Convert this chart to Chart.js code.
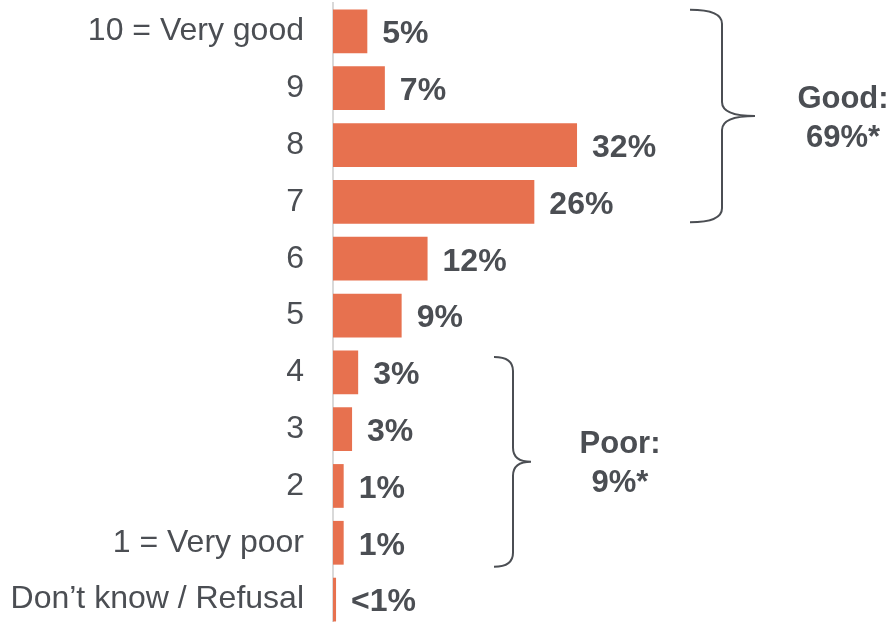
<!DOCTYPE html>
<html>
<head>
<meta charset="utf-8">
<script src="https://cdn.jsdelivr.net/npm/chart.js@4/dist/chart.umd.min.js"></script>
<style>
  html, body { margin: 0; padding: 0; background: #fff; overflow: hidden; }
  canvas { display: block; }
</style>
</head>
<body>
<canvas id="grafico" width="892" height="632"></canvas>
<script>
// data
const categories = ['10 = Very good', '9', '8', '7', '6', '5', '4', '3', '2', '1 = Very poor', 'Don\u2019t know / Refusal'];
const values = [4.5, 6.8, 32, 26.4, 12.4, 9, 3.3, 2.5, 1.4, 1.4, 0.4];
const valueLabels = ['5%', '7%', '32%', '26%', '12%', '9%', '3%', '3%', '1%', '1%', '<1%'];
// groups: [first row, last row, title, total]
const groups = [
    [0, 3, 'Good:', '69%*'],
    [6, 9, 'Poor:', '9%*']
];

const barColor = '#E7714F';
const textColor = '#4B4E53';

// value labels + brackets
const extras = {
    id: 'extras',
    afterDatasetsDraw(chart) {
        const ctx = chart.ctx;
        const meta = chart.getDatasetMeta(0);
        const yScale = chart.scales.y;
        ctx.save();
        ctx.fillStyle = textColor;
        ctx.font = 'bold 32px "Liberation Sans", Arial, sans-serif';
        ctx.textAlign = 'left';
        ctx.textBaseline = 'middle';
        meta.data.forEach((bar, i) => {
            ctx.fillText(valueLabels[i], bar.x + 15, bar.y + 3);
        });

        const pitch = yScale.getPixelForValue(1) - yScale.getPixelForValue(0);
        const brackets = [
            { left: 690, line: 722, tip: 755, textX: 843, up: 0.38, down: 0.36 },
            { left: 494, line: 513, tip: 531, textX: 620, up: 0.27, down: 0.42 }
        ];
        groups.forEach((g, k) => {
            const b = brackets[k];
            const top = yScale.getPixelForValue(g[0]) - pitch * b.up;
            const bottom = yScale.getPixelForValue(g[1]) + pitch * b.down;
            const mid = (top + bottom) / 2;
            const r = 14;
            ctx.strokeStyle = textColor;
            ctx.lineWidth = 2;
            ctx.beginPath();
            ctx.moveTo(b.left, top);
            ctx.quadraticCurveTo(b.line, top, b.line, top + r);
            ctx.lineTo(b.line, mid - r);
            ctx.quadraticCurveTo(b.line, mid, b.tip, mid);
            ctx.quadraticCurveTo(b.line, mid, b.line, mid + r);
            ctx.lineTo(b.line, bottom - r);
            ctx.quadraticCurveTo(b.line, bottom, b.left, bottom);
            ctx.stroke();

            ctx.textAlign = 'center';
            ctx.font = 'bold 31px "Liberation Sans", Arial, sans-serif';
            ctx.fillText(g[2], b.textX, mid - 17);
            ctx.fillText(g[3], b.textX, mid + 22);
        });
        ctx.restore();
    }
};

const data = {
    labels: categories,
    datasets: [{
        data: values,
        backgroundColor: barColor,
        borderWidth: 0,
        barPercentage: 0.77,
        categoryPercentage: 1
    }]
};

const config = {
    type: 'bar',
    data: data,
    options: {
        indexAxis: 'y',
        responsive: false,
        animation: false,
        layout: { padding: { top: 3, bottom: 4, left: 0, right: 0 } },
        plugins: {
            legend: { display: false },
            tooltip: { enabled: false }
        },
        scales: {
            x: {
                display: false,
                min: 0,
                max: 73.3
            },
            y: {
                grid: { display: false },
                border: { display: true, color: '#D9D9D9', width: 2 },
                ticks: {
                    color: textColor,
                    padding: 21,
                    font: { family: '"Liberation Sans", Arial, sans-serif', size: 32 }
                },
                afterFit(scale) {
                    scale.width = 333;
                    scale.paddingTop = 0;
                    scale.paddingBottom = 0;
                }
            }
        }
    },
    plugins: [extras]
};

const grafico = new Chart(document.getElementById('grafico'), config);
</script>
</body>
</html>
